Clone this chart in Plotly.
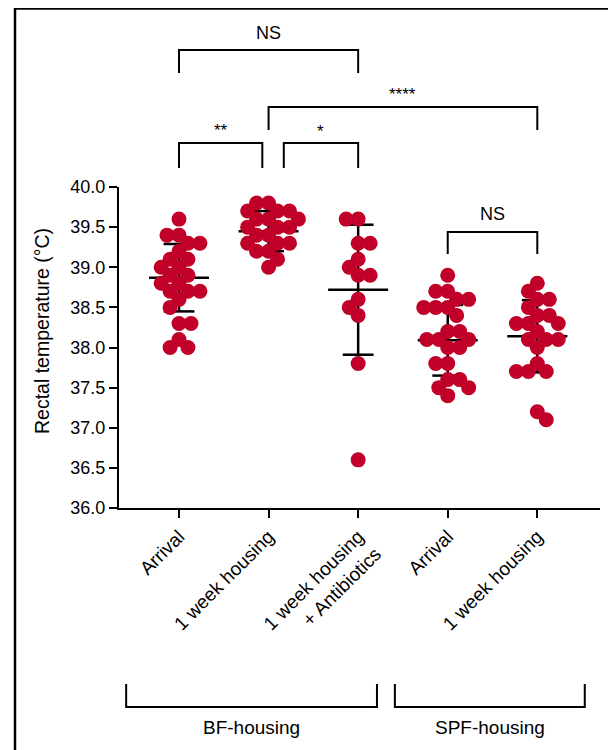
import numpy as np
import plotly.graph_objects as go

# ---------------- data ----------------
categories = ["Arrival", "1 week housing", "1 week housing<br>+ Antibiotics",
              "Arrival", "1 week housing"]

bf_arrival = [39.6, 39.4, 39.4, 39.3, 39.3, 39.2, 39.1, 39.1, 39.0, 39.0, 38.9,
              38.9, 38.8, 38.8, 38.7, 38.7, 38.7, 38.6, 38.5, 38.3, 38.3, 38.1,
              38.0, 38.0]
bf_1week = [39.8, 39.8, 39.7, 39.7, 39.7, 39.6, 39.6, 39.6, 39.5, 39.5, 39.5,
            39.4, 39.4, 39.3, 39.3, 39.3, 39.2, 39.2, 39.1, 39.0]
bf_1week_abx = [39.6, 39.6, 39.3, 39.3, 39.1, 39.0, 38.9, 38.9, 38.6, 38.5,
                38.4, 37.8, 36.6]
spf_arrival = [38.9, 38.7, 38.7, 38.6, 38.6, 38.5, 38.5, 38.5, 38.4, 38.2,
               38.2, 38.1, 38.1, 38.1, 38.0, 38.0, 37.8, 37.8, 37.6, 37.6,
               37.5, 37.5, 37.4]
spf_1week = [38.8, 38.7, 38.6, 38.6, 38.5, 38.4, 38.4, 38.3, 38.3, 38.3, 38.2,
             38.1, 38.1, 38.1, 38.0, 37.8, 37.7, 37.7, 37.7, 37.2, 37.1]

means = [38.87, 39.45, 38.72, 38.09, 38.14]
sds = [0.42, 0.25, 0.81, 0.44, 0.45]

y_ticks = [36.0, 36.5, 37.0, 37.5, 38.0, 38.5, 39.0, 39.5, 40.0]

# comparisons: (group a, group b, label)
comparisons = [
    (0, 2, "NS"),
    (1, 4, "****"),
    (0, 1, "**"),
    (1, 2, "*"),
    (3, 4, "NS"),
]
housing_groups = ["BF-housing", "SPF-housing"]
y_title = "Rectal temperature (°C)"

groups = [bf_arrival, bf_1week, bf_1week_abx, spf_arrival, spf_1week]

# ---------------- layout geometry ----------------
OFF = 8                      # page body margin
W, H = 616, 750
ML, MT = 119 - OFF, 187 - OFF
PR, PB = 600 - OFF, 508 - OFF
MR, MB = W - PR, H - PB
XR = [-0.67, 4.70]
YR = [36.0, 40.0]
PW = PR - ML
PH = PB - MT
SX = PW / (XR[1] - XR[0])   # px per category
SY = PH / (YR[1] - YR[0])   # px per degree

RED = "#C1002A"
BLACK = "#000000"
FONT = "Liberation Sans, Arial, Helvetica, sans-serif"


def swarm(vals, D=12.0):
    vals = np.asarray(vals, dtype=float)
    order = np.argsort(-vals, kind="stable")
    placed = []
    xs = np.zeros(len(vals))
    total = 0.0
    for i in order:
        y = vals[i] * SY
        iv = []
        for px, py in placed:
            dy = abs(py - y)
            if dy < D:
                h = np.sqrt(D * D - dy * dy)
                iv.append((px - h, px + h))
        cands = [0.0] + [a for a, b in iv] + [b for a, b in iv]
        ok = [c for c in cands
              if all(not (a + 1e-9 < c < b - 1e-9) for a, b in iv)]
        # closest to the centre, ties broken towards the lighter side
        ok.sort(key=lambda c: (round(abs(c), 1), c * np.sign(total + 1e-9)))
        xs[i] = ok[0]
        total += xs[i]
        placed.append((xs[i], y))
    return xs / SX


def pyp(py):
    """page pixel row -> paper y"""
    return (PB - (py - OFF)) / PH


def pxp(px):
    """page pixel column -> paper x"""
    return ((px - OFF) - ML) / PW


fig = go.Figure()

# mean and SD lines (drawn under the points)
mx, my = [], []
for i, (m, s) in enumerate(zip(means, sds)):
    mx += [i - 0.335, i + 0.335, None]
    my += [m, m, None]
    mx += [i, i, None, i - 0.172, i + 0.172, None, i - 0.172, i + 0.172, None]
    my += [m - s, m + s, None, m + s, m + s, None, m - s, m - s, None]
fig.add_trace(go.Scatter(x=mx, y=my, mode="lines",
                         line=dict(color=BLACK, width=2.5),
                         hoverinfo="skip", showlegend=False))

for i, vals in enumerate(groups):
    off = swarm(vals)
    fig.add_trace(go.Scatter(
        x=i + off, y=vals, mode="markers",
        marker=dict(size=15, color=RED, line=dict(width=0)),
        showlegend=False, cliponaxis=False))

shapes = []
annotations = []

# significance brackets (page rows: top, leg end, label centre, font size)
levels = {
    (0, 2): (50, 73, 33, 18),
    (1, 4): (107, 130, 95, 17),
    (0, 1): (143, 168, 130, 17),
    (1, 2): (143, 168, 131, 17),
    (3, 4): (232, 254, 214, 18),
}
inset = {(0, 1): (0.0, -0.07), (1, 2): (0.17, 0.0)}
for a, b, lab in comparisons:
    top, bot, ty, fs = levels[(a, b)]
    da, db = inset.get((a, b), (0.0, 0.0))
    x0, x1 = a + da, b + db
    shapes.append(dict(type="path", xref="x", yref="paper",
                       path=f"M {x0},{pyp(bot)} L {x0},{pyp(top)} "
                            f"L {x1},{pyp(top)} L {x1},{pyp(bot)}",
                       line=dict(color=BLACK, width=2)))
    annotations.append(dict(x=(x0 + x1) / 2, y=pyp(ty), xref="x", yref="paper",
                            text=lab, showarrow=False, yanchor="middle",
                            font=dict(size=fs, color=BLACK, family=FONT)))

# housing group brackets
hb = [(-0.59, 2.21), (2.41, 4.53)]
for (x0, x1), lab in zip(hb, housing_groups):
    shapes.append(dict(type="path", xref="x", yref="paper",
                       path=f"M {x0},{pyp(684)} L {x0},{pyp(707)} "
                            f"L {x1},{pyp(707)} L {x1},{pyp(684)}",
                       line=dict(color=BLACK, width=2)))
    annotations.append(dict(x=(x0 + x1) / 2, y=pyp(727), xref="x", yref="paper",
                            text=lab, showarrow=False, yanchor="middle",
                            font=dict(size=19, color=BLACK, family=FONT)))

# y-axis title
annotations.append(dict(x=pxp(42), y=pyp(331), xref="paper", yref="paper",
                        text=y_title, textangle=-90, showarrow=False,
                        xanchor="center", yanchor="middle",
                        font=dict(size=19.5, color=BLACK, family=FONT)))

# outer frame
shapes.append(dict(type="rect", xref="paper", yref="paper",
                   x0=pxp(15), x1=pxp(613), y0=pyp(780), y1=pyp(8.5),
                   line=dict(color=BLACK, width=2.5)))

fig.update_layout(
    width=W, height=H,
    margin=dict(l=ML, r=MR, t=MT, b=MB),
    paper_bgcolor="white", plot_bgcolor="white",
    font=dict(family=FONT, color=BLACK),
    shapes=shapes, annotations=annotations,
    xaxis=dict(range=XR, tickmode="array", tickvals=list(range(len(categories))),
               ticktext=categories, tickangle=-45, ticks="outside", ticklen=8,
               tickwidth=2, tickcolor=BLACK, showline=True, linewidth=2,
               linecolor=BLACK, showgrid=False, zeroline=False,
               tickfont=dict(size=19, family=FONT, color=BLACK)),
    yaxis=dict(range=YR, tickmode="array", tickvals=y_ticks,
               ticktext=[f"{v:.1f}" for v in y_ticks], ticks="outside", ticklen=8,
               tickwidth=2, tickcolor=BLACK, showline=True, linewidth=2,
               linecolor=BLACK, showgrid=False, zeroline=False,
               tickfont=dict(size=18, family=FONT, color=BLACK)),
)

fig.write_html("out.html")
